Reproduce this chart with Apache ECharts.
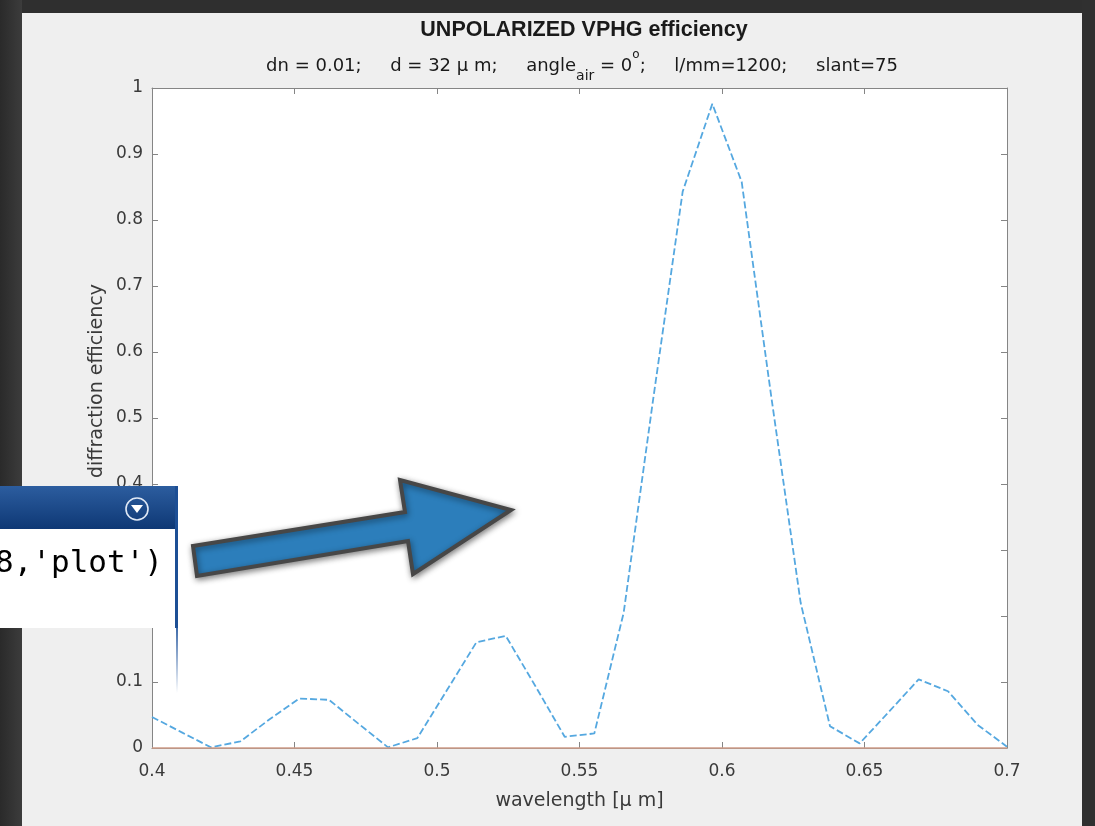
<!DOCTYPE html>
<html>
<head>
<meta charset="utf-8">
<script src="https://cdn.jsdelivr.net/npm/echarts@6/dist/echarts.min.js"></script>
<style>html,body{margin:0;padding:0;background:#2e2e2e;}#main{width:1095px;height:826px;}</style>
</head>
<body>
<div id="main"></div>
<script>
// ---- data ----
const wavelength = [0.4000, 0.4103, 0.4207, 0.4310, 0.4414, 0.4517, 0.4621, 0.4724, 0.4828, 0.4931,
                    0.5034, 0.5138, 0.5241, 0.5345, 0.5448, 0.5552, 0.5655, 0.5759, 0.5862, 0.5966,
                    0.6069, 0.6172, 0.6276, 0.6379, 0.6483, 0.6586, 0.6690, 0.6793, 0.6897, 0.7000];
const efficiency = [0.047, 0.024, 0.001, 0.010, 0.044, 0.075, 0.073, 0.037, 0.001, 0.015,
                    0.087, 0.160, 0.170, 0.094, 0.017, 0.022, 0.205, 0.530, 0.843, 0.976,
                    0.858, 0.535, 0.220, 0.033, 0.007, 0.055, 0.104, 0.086, 0.035, 0.002];
const zeroLine = [0, 0];
const zeroLineX = [0.4, 0.7];
const xTicks = ['0.4', '0.45', '0.5', '0.55', '0.6', '0.65', '0.7'];
const yTicks = ['0', '0.1', '0.2', '0.3', '0.4', '0.5', '0.6', '0.7', '0.8', '0.9', '1'];
const titleText = 'UNPOLARIZED VPHG efficiency';
const xName = 'wavelength [\u03bc m]';
const yName = 'diffraction efficiency';

const chart = echarts.init(document.getElementById('main'), null, {renderer: 'canvas'});
const FONT = 'Liberation Sans';
const FONT2 = 'DejaVu Sans';
const xMin = parseFloat(xTicks[0]), xMax = parseFloat(xTicks[xTicks.length - 1]);
const yMin = parseFloat(yTicks[0]), yMax = parseFloat(yTicks[yTicks.length - 1]);
function fmt(list){ return function(v){ const m = list.find(t => Math.abs(parseFloat(t) - v) < 1e-6); return m === undefined ? '' : m; }; }

const axisLineStyle = {color: '#858585', width: 1};
const tickStyle = {show: true, inside: true, length: 6, lineStyle: {color: '#858585', width: 1}};
const txtColor = '#3a3a3a';

const option = {
  backgroundColor: '#efefef',
  animation: false,
  title: [
    {text: titleText, left: 579, top: 14, textAlign: 'center',
     textStyle: {fontFamily: FONT, fontSize: 21.5, fontWeight: 'bold', color: '#1a1a1a'}},
    {text: '{n|dn = 0.01;     d = 32 \u03bc m;     angle}{sub|air}{n| = 0}{sup|o}{n|;     l/mm=1200;     slant=75}',
     left: 577, top: 44, textAlign: 'center',
     textStyle: {fontFamily: FONT2, fontSize: 18, fontWeight: 'normal', color: '#1a1a1a',
       rich: {
         n: {fontFamily: FONT2, fontSize: 18, fontWeight: 'normal', color: '#1a1a1a', lineHeight: 34, verticalAlign: 'middle'},
         sub: {fontFamily: FONT2, fontSize: 14, fontWeight: 'normal', color: '#1a1a1a', lineHeight: 16, verticalAlign: 'bottom'},
         sup: {fontFamily: FONT2, fontSize: 12, fontWeight: 'normal', color: '#1a1a1a', lineHeight: 22, verticalAlign: 'top'}
       }}}
  ],
  grid: {left: 152, right: 88, top: 88, bottom: 78, show: true, backgroundColor: '#ffffff', borderWidth: 0},
  xAxis: [
    {type: 'value', min: xMin, max: xMax, interval: 0.05, position: 'bottom',
     name: xName, nameLocation: 'middle', nameGap: 44,
     nameTextStyle: {fontFamily: FONT2, fontSize: 19, color: txtColor},
     axisLine: {show: true, onZero: false, lineStyle: axisLineStyle},
     axisTick: tickStyle, splitLine: {show: false},
     axisLabel: {fontFamily: FONT2, fontSize: 17, color: txtColor, margin: 15, formatter: fmt(xTicks)}},
    {type: 'value', min: xMin, max: xMax, interval: 0.05, position: 'top',
     axisLine: {show: true, onZero: false, lineStyle: axisLineStyle},
     axisTick: tickStyle, splitLine: {show: false}, axisLabel: {show: false}}
  ],
  yAxis: [
    {type: 'value', min: yMin, max: yMax, interval: 0.1, position: 'left',
     axisLine: {show: true, onZero: false, lineStyle: axisLineStyle},
     axisTick: tickStyle, splitLine: {show: false},
     axisLabel: {fontFamily: FONT2, fontSize: 17, color: txtColor, margin: 9, padding: [4, 0, 0, 0], formatter: fmt(yTicks)}},
    {type: 'value', min: yMin, max: yMax, interval: 0.1, position: 'right',
     axisLine: {show: true, onZero: false, lineStyle: axisLineStyle},
     axisTick: tickStyle, splitLine: {show: false}, axisLabel: {show: false}}
  ],
  series: [
    {type: 'line', xAxisIndex: 0, yAxisIndex: 0, showSymbol: false, clip: false,
     data: wavelength.map((w, i) => [w, efficiency[i]]),
     lineStyle: {color: '#55a8e0', width: 1.8, type: [7, 3]}, z: 3},
    {type: 'line', xAxisIndex: 0, yAxisIndex: 0, showSymbol: false, clip: false,
     data: zeroLineX.map((w, i) => [w, zeroLine[i]]),
     lineStyle: {color: '#cf9c88', width: 1.6}, z: 4}
  ],
  graphic: [
    // y axis title
    {type: 'text', z: 50, x: 97, y: 381, rotation: Math.PI / 2,
     style: {text: yName, fontFamily: FONT2, fontSize: 19, fill: txtColor, align: 'center', verticalAlign: 'middle'}},
    // dark frame of the screenshot
    {type: 'rect', z: 100, shape: {x: 0, y: 0, width: 1095, height: 13}, style: {fill: '#2f2f2f'}},
    {type: 'rect', z: 100, shape: {x: 0, y: 0, width: 22, height: 826},
     style: {fill: new echarts.graphic.LinearGradient(0, 0, 1, 0, [{offset: 0, color: '#2a2a2a'}, {offset: 1, color: '#3c3c3c'}])}},
    {type: 'rect', z: 100, shape: {x: 1082, y: 0, width: 13, height: 826}, style: {fill: '#303030'}},
    // code window panel
    {type: 'rect', z: 101, shape: {x: 0, y: 486, width: 178, height: 43},
     style: {fill: new echarts.graphic.LinearGradient(0, 0, 0, 1, [{offset: 0, color: '#2c5d9f'}, {offset: 1, color: '#0e3875'}])}},
    {type: 'rect', z: 101, shape: {x: 0, y: 529, width: 176, height: 99}, style: {fill: '#ffffff'}},
    {type: 'rect', z: 102, shape: {x: 175, y: 486, width: 3, height: 142}, style: {fill: '#1d4f95'}},
    {type: 'rect', z: 102, shape: {x: 176, y: 628, width: 2, height: 65},
     style: {fill: new echarts.graphic.LinearGradient(0, 0, 0, 1, [{offset: 0, color: 'rgba(40,90,160,0.9)'}, {offset: 1, color: 'rgba(40,90,160,0)'}])}},
    {type: 'circle', z: 103, shape: {cx: 137, cy: 509, r: 11}, style: {fill: 'none', stroke: '#dfe8f5', lineWidth: 1.6}},
    {type: 'polygon', z: 103, shape: {points: [[131, 505], [143, 505], [137, 513]]}, style: {fill: '#ffffff'}},
    {type: 'text', z: 103, style: {x: -5, y: 564, text: "{a|8,}{p|'plot'}{a|)}", verticalAlign: 'middle',
      rich: {a: {fontFamily: 'DejaVu Sans Mono', fontSize: 31, color: '#333333'},
             p: {fontFamily: 'DejaVu Sans Mono', fontSize: 31, color: '#a72cf0'}}}},
    // arrow
    {type: 'polygon', z: 104,
     shape: {points: [[193, 546], [405, 512], [400, 480], [511, 510], [413, 574], [408, 541], [197, 576]]},
     style: {fill: '#2c7ebb', stroke: '#474747', lineWidth: 4, lineJoin: 'miter',
             shadowBlur: 6, shadowColor: 'rgba(0,0,0,0.45)', shadowOffsetX: 1, shadowOffsetY: 2}}
  ]
};
chart.setOption(option);
</script>
</body>
</html>
